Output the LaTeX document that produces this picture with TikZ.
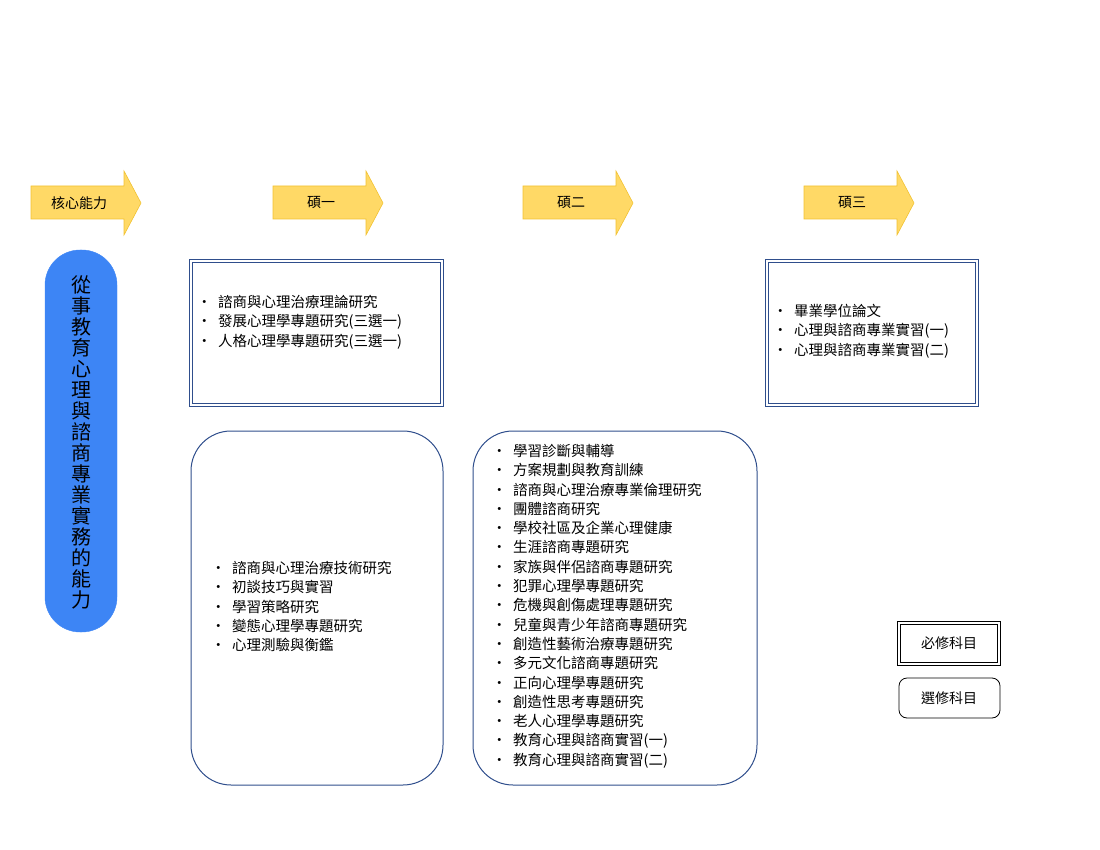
\documentclass[tikz,border=0pt]{standalone}
\usepackage{fontspec}
\setmainfont{Noto Sans CJK TC}
\usetikzlibrary{calc}
\definecolor{arrfill}{HTML}{FFD966}
\definecolor{arrdraw}{HTML}{F1C232}
\definecolor{pill}{HTML}{3D85F5}
\definecolor{bdr}{HTML}{2F4E8C}
\newcommand{\bl}{\makebox[21pt][l]{•}}
\tikzset{
  arr/.style={fill=arrfill,draw=arrdraw,line width=0.6pt},
  lbl/.style={font=\fontsize{14.5}{19.3}\selectfont,anchor=north west,align=left,inner sep=0pt},
  dbl/.style={draw=bdr,line width=1.1pt},
  rnd/.style={draw=bdr,line width=1pt,rounded corners=40pt},
}
\begin{document}
\begin{tikzpicture}[x=1pt,y=-1pt]
\useasboundingbox (0,0) rectangle (1100,850);
\foreach \x/\t/\n in {31/核心能力/a1,273/碩一/a2,523/碩二/a3,804/碩三/a4}{
  \draw[arr] (\x,186) -- (\x+93,186) -- (\x+93,171) -- (\x+110,203) -- (\x+93,235) -- (\x+93,219) -- (\x,219) -- cycle;
  \node[font=\fontsize{14}{16}\selectfont] (\n) at (\x+48,203) {\t};
}
\draw[fill=pill,draw=pill,rounded corners=35pt] (45,250) rectangle (117,632);
\node[font=\fontsize{20}{21}\selectfont,align=center,inner sep=0pt] (core) at (81,442) {從\\事\\教\\育\\心\\理\\與\\諮\\商\\專\\業\\實\\務\\的\\能\\力};
\draw[dbl] (189.5,259.5) rectangle (443.5,406.5);
\draw[dbl] (192.5,262.5) rectangle (440.5,403.5);
\node[lbl] (b1) at (197,295) {\bl 諮商與心理治療理論研究\\\bl 發展心理學專題研究(三選一)\\\bl 人格心理學專題研究(三選一)};
\draw[dbl] (765.5,259.5) rectangle (978.5,406.5);
\draw[dbl] (768.5,262.5) rectangle (975.5,403.5);
\node[lbl] (b3) at (773,304) {\bl 畢業學位論文\\\bl 心理與諮商專業實習(一)\\\bl 心理與諮商專業實習(二)};
\draw[rnd] (191,431) rectangle (443,785);
\node[lbl] (b2) at (211,561) {\bl 諮商與心理治療技術研究\\\bl 初談技巧與實習\\\bl 學習策略研究\\\bl 變態心理學專題研究\\\bl 心理測驗與衡鑑};
\draw[rnd] (473,431) rectangle (757,785);
\node[lbl] (b4) at (492,444) {\bl 學習診斷與輔導\\\bl 方案規劃與教育訓練\\\bl 諮商與心理治療專業倫理研究\\\bl 團體諮商研究\\\bl 學校社區及企業心理健康\\\bl 生涯諮商專題研究\\\bl 家族與伴侶諮商專題研究\\\bl 犯罪心理學專題研究\\\bl 危機與創傷處理專題研究\\\bl 兒童與青少年諮商專題研究\\\bl 創造性藝術治療專題研究\\\bl 多元文化諮商專題研究\\\bl 正向心理學專題研究\\\bl 創造性思考專題研究\\\bl 老人心理學專題研究\\\bl 教育心理與諮商實習(一)\\\bl 教育心理與諮商實習(二)};
\draw[black,line width=1pt] (897.5,621.5) rectangle (1000.5,665.5);
\draw[black,line width=1.6pt] (900.5,624.5) rectangle (997.5,662.5);
\node[font=\fontsize{14}{16}\selectfont] (req) at (949,643) {必修科目};
\draw[black,line width=0.8pt,rounded corners=8pt] (899,678) rectangle (1000,718);
\node[font=\fontsize{14}{16}\selectfont] (ele) at (949,698) {選修科目};
\end{tikzpicture}
\end{document}
